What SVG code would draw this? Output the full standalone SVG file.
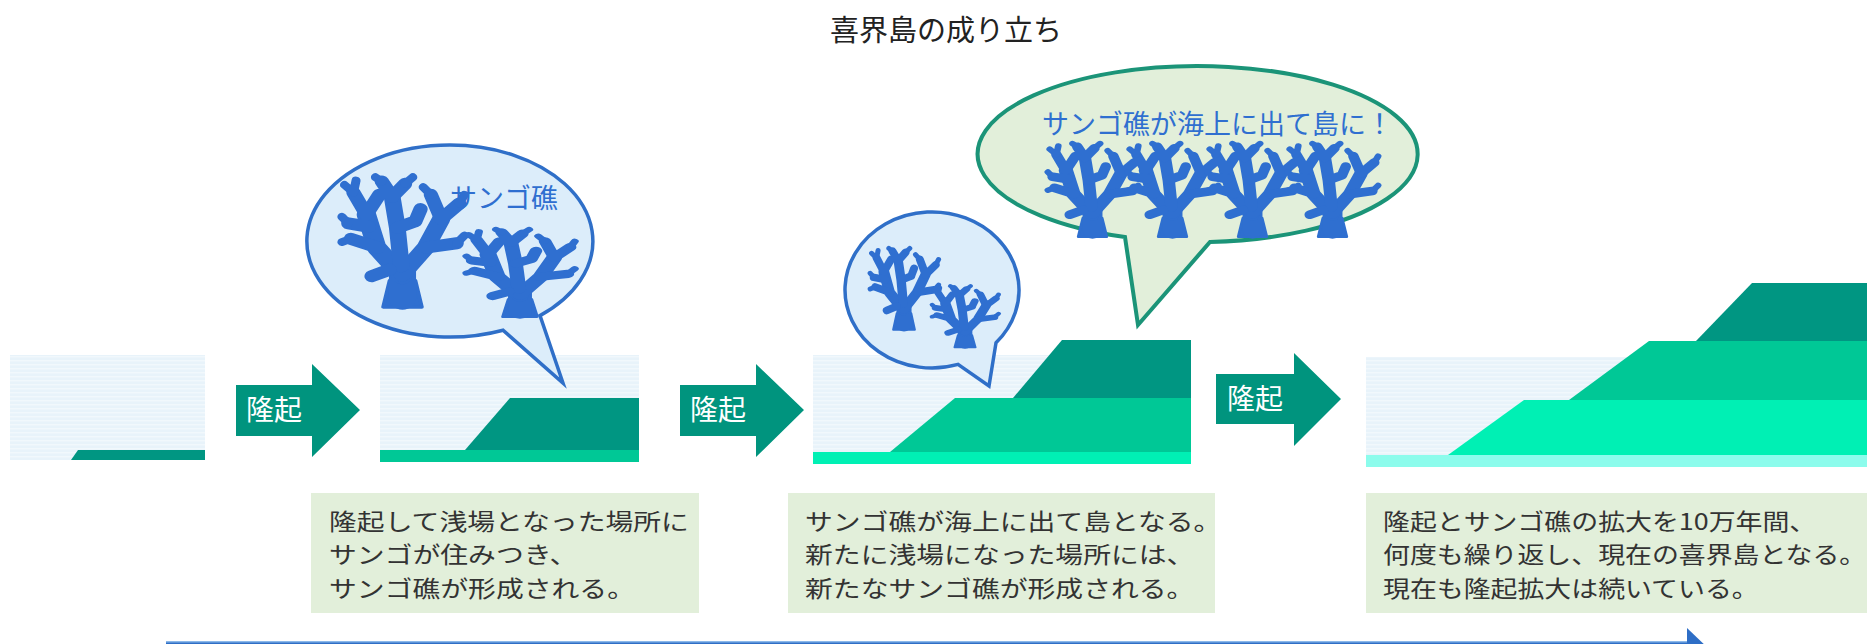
<svg xmlns="http://www.w3.org/2000/svg" xmlns:xlink="http://www.w3.org/1999/xlink" width="1867" height="644" viewBox="0 0 1867 644">
  <style>
    .title { font-family: "Noto Sans CJK JP", "Noto Sans", sans-serif; font-size: 29px; fill: #222; }
    .lift { font-family: "Noto Sans CJK JP", "Noto Sans", sans-serif; font-size: 28px; fill: #ffffff; text-anchor: middle; }
    .bubble-label { font-family: "Noto Sans CJK JP", "Noto Sans", sans-serif; font-size: 27px; fill: #2f6fd0; }
    .caption { font-family: "Noto Sans CJK JP", "Noto Sans", sans-serif; font-size: 23px; fill: #333; }
    .box { fill: #e2efda; }
    .water { fill: url(#water); }
    .c1 { fill: #009682; }
    .c2 { fill: #00c896; }
    .c3 { fill: #00f0b4; }
    .c4 { fill: #8cfcec; }
    .arrow { fill: #00947e; }
    .bubble-blue { fill: #dcedfa; stroke: #2f6fc8; stroke-width: 3.5; stroke-linejoin: miter; }
    .bubble-green { fill: #e2efda; stroke: #1b9478; stroke-width: 4; stroke-linejoin: miter; }
  </style>
  <defs>
    <pattern id="water" width="8" height="4" patternUnits="userSpaceOnUse">
      <rect width="8" height="4" fill="#e8f3fa"/>
      <rect width="8" height="1.5" fill="#f1f8fc"/>
    </pattern>
    <!-- branching coral silhouette, base at bottom centre of a 100x120 box -->
    <g id="coral" fill="none" stroke="#2f6fd0" stroke-linecap="round" stroke-linejoin="round">
      <path d="M35,120 L65,120 L60,96 L40,96 Z" fill="#2f6fd0" stroke-width="3"/>
      <path d="M50,112 L50,84" stroke-width="21"/>
      <path d="M50,92 L30,66 L22,36" stroke-width="15"/>
      <path d="M50,90 L68,66 L80,40" stroke-width="14"/>
      <path d="M49,82 L46,48 L42,20" stroke-width="13"/>
      <path d="M31,66 L10,58 M24,47 L8,44 M22,36 L12,16 M22,36 L32,18 M42,20 L34,6 M42,20 L52,8 M46,48 L60,42 M60,42 L64,31 M68,66 L92,62 M80,40 L72,18 M80,40 L94,26 M40,86 L26,92" stroke-width="11"/>
      <path d="M12,16 L5,9 M12,16 L14,5 M34,6 L29,2 M52,8 L58,2 M94,26 L98,18 M92,62 L98,55 M10,58 L3,61 M72,18 L66,11 M8,44 L3,38" stroke-width="7"/>
    </g>
  </defs>

  <rect width="1867" height="644" fill="#ffffff"/>

  <g id="title">
    <text class="title" x="946" y="41" text-anchor="middle">喜界島の成り立ち</text>
  </g>

  <!-- cross-sections: sea and uplifted reef layers -->
  <g id="stage-1">
    <rect class="water" x="10" y="355" width="195" height="105"/>
    <polygon class="c1" points="71,460 78,450 205,450 205,460"/>
  </g>

  <g id="stage-2">
    <rect class="water" x="380" y="355" width="259" height="107"/>
    <rect class="c2" x="380" y="450" width="259" height="12"/>
    <polygon class="c1" points="465,450 510,398 639,398 639,450"/>
  </g>

  <g id="stage-3">
    <rect class="water" x="813" y="355" width="378" height="109"/>
    <rect class="c3" x="813" y="452" width="378" height="12"/>
    <polygon class="c2" points="890,452 955,398 1191,398 1191,452"/>
    <polygon class="c1" points="1013,398 1062,340 1191,340 1191,398"/>
  </g>

  <g id="stage-4">
    <rect class="water" x="1366" y="357" width="501" height="110"/>
    <rect class="c4" x="1366" y="455" width="501" height="12"/>
    <polygon class="c3" points="1448,455 1524,400 1867,400 1867,455"/>
    <polygon class="c2" points="1569,400 1649,341 1867,341 1867,400"/>
    <polygon class="c1" points="1696,341 1752,283 1867,283 1867,341"/>
  </g>

  <!-- speech bubbles -->
  <g id="bubble-reef">
    <path class="bubble-blue" d="M540,315.6 A143,96 0 1 0 503,330.2 L563,383 Z"/>
    <use xlink:href="#coral" transform="translate(338,175) scale(1.29,1.1)"/>
    <use xlink:href="#coral" transform="translate(463,228) scale(1.14,0.74)"/>
    <text class="bubble-label" x="450" y="208">サンゴ礁</text>
  </g>

  <g id="bubble-new-reef">
    <path class="bubble-blue" d="M996,342.8 A87,78 0 1 0 958,364.4 L989,386 Z"/>
    <use xlink:href="#coral" transform="translate(868,247) scale(0.72,0.69)"/>
    <use xlink:href="#coral" transform="translate(930,285) scale(0.7,0.52)"/>
  </g>

  <g id="bubble-island">
    <path class="bubble-green" d="M1210,241.9 A220,88 0 1 0 1125,237.1 L1138,325 Z"/>
    <text class="bubble-label" x="1042" y="134">サンゴ礁が海上に出て島に！</text>
    <use xlink:href="#coral" transform="translate(1045,142) scale(0.95,0.79)"/>
    <use xlink:href="#coral" transform="translate(1125,142) scale(0.95,0.79)"/>
    <use xlink:href="#coral" transform="translate(1205,142) scale(0.95,0.79)"/>
    <use xlink:href="#coral" transform="translate(1285,142) scale(0.95,0.79)"/>
  </g>

  <!-- captions (type set narrow-tall, widened to the box measure) -->
  <g id="caption-1">
    <rect class="box" x="311" y="493" width="388" height="120"/>
    <g transform="translate(329,0) scale(1.21,1)">
      <text class="caption" x="0" y="530">隆起して浅場となった場所に</text>
      <text class="caption" x="0" y="563.5">サンゴが住みつき、</text>
      <text class="caption" x="0" y="597">サンゴ礁が形成される。</text>
    </g>
  </g>

  <g id="caption-2">
    <rect class="box" x="788" y="493" width="427" height="120"/>
    <g transform="translate(805,0) scale(1.21,1)">
      <text class="caption" x="0" y="530">サンゴ礁が海上に出て島となる。</text>
      <text class="caption" x="0" y="563.5">新たに浅場になった場所には、</text>
      <text class="caption" x="0" y="597">新たなサンゴ礁が形成される。</text>
    </g>
  </g>

  <g id="caption-3">
    <rect class="box" x="1366" y="493" width="501" height="120"/>
    <g transform="translate(1383,0) scale(1.17,1)">
      <text class="caption" x="0" y="530">隆起とサンゴ礁の拡大を10万年間、</text>
      <text class="caption" x="0" y="563.5">何度も繰り返し、現在の喜界島となる。</text>
      <text class="caption" x="0" y="597">現在も隆起拡大は続いている。</text>
    </g>
  </g>

  <!-- uplift arrows and the time axis -->
  <g id="connectors">
    <g id="uplift-1">
      <polygon class="arrow" points="236,385 312,385 312,364 360,410 312,457 312,436 236,436"/>
      <text class="lift" x="274" y="420">隆起</text>
    </g>
    <g id="uplift-2">
      <polygon class="arrow" points="680,385 756,385 756,364 804,410 756,457 756,436 680,436"/>
      <text class="lift" x="718" y="420">隆起</text>
    </g>
    <g id="uplift-3">
      <polygon class="arrow" points="1216,374 1294,374 1294,353 1341,399 1294,446 1294,424 1216,424"/>
      <text class="lift" x="1255" y="409">隆起</text>
    </g>
    <g id="time-axis">
      <rect x="166" y="641" width="1524" height="10" fill="#2e6ec6"/>
      <rect x="166" y="641" width="1524" height="1.5" fill="#8cb9ea"/>
      <polygon points="1687,628 1687,672 1710,650" fill="#2e6ec6"/>
    </g>
  </g>
</svg>
